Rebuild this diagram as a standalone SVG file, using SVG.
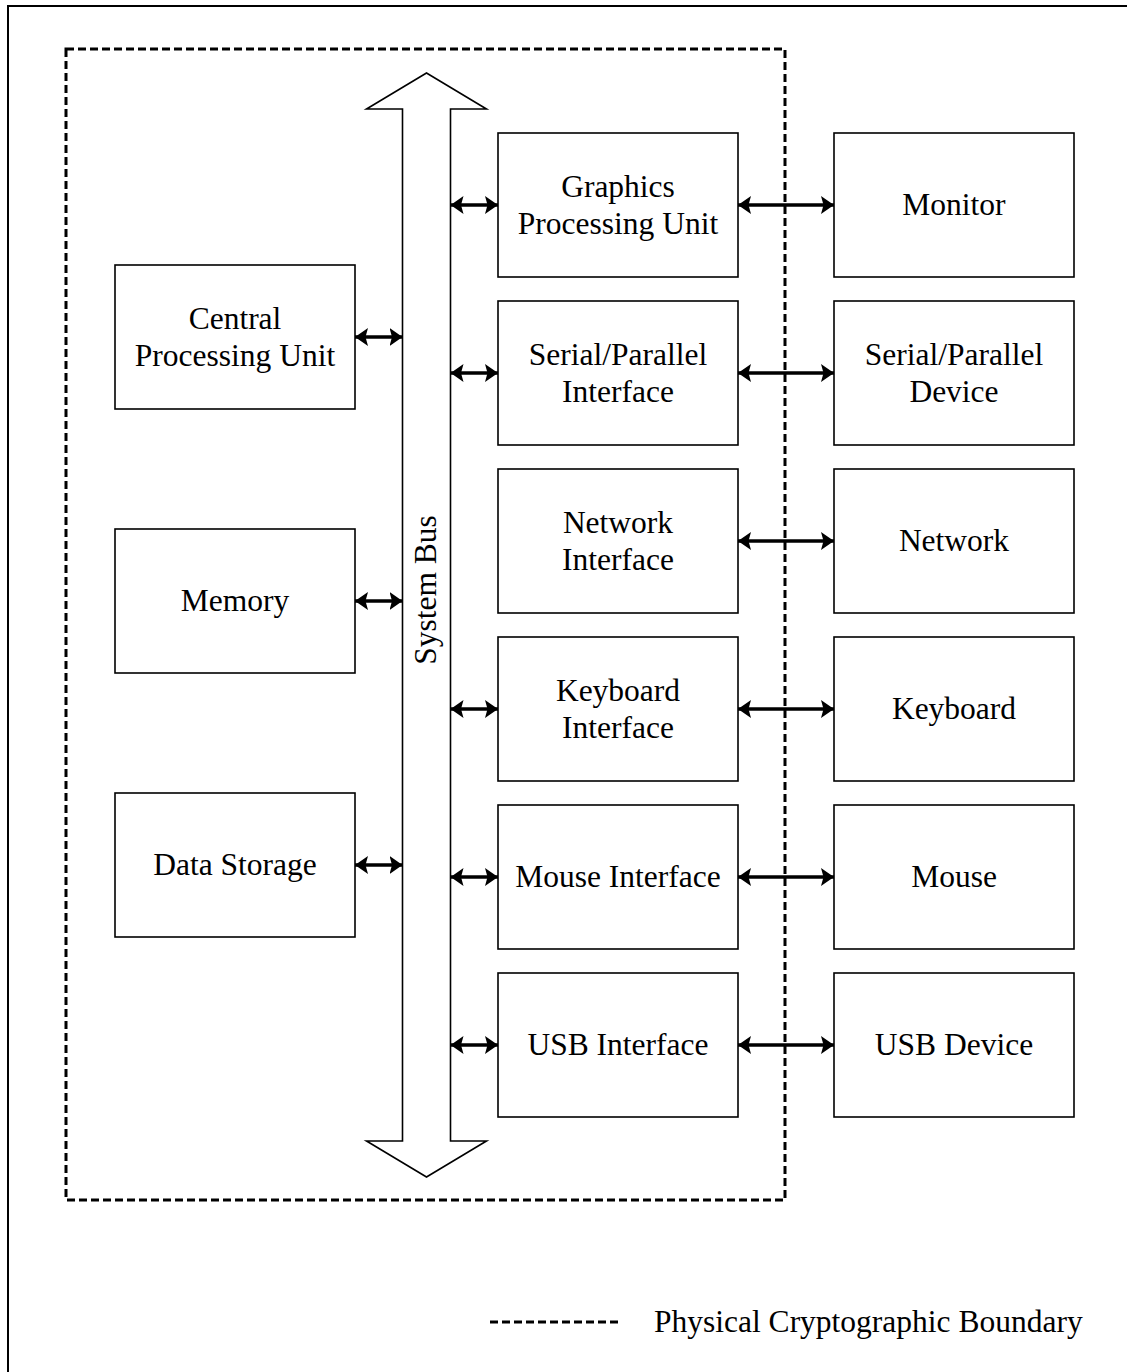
<svg xmlns="http://www.w3.org/2000/svg" width="1127" height="1372" viewBox="0 0 1127 1372">
<style>
.box{fill:#fff;stroke:#000;stroke-width:1.6}
.lbl{font-family:"Liberation Serif","Times New Roman",serif;font-size:31.5px;fill:#000;text-anchor:middle}
.conn{stroke:#000;stroke-width:3.5;fill:none;marker-start:url(#ah);marker-end:url(#ah)}
.dash{fill:none;stroke:#000;stroke-width:3;stroke-dasharray:8 4}
</style>
<defs>
<marker id="ah" viewBox="0 0 13 18" refX="13" refY="9" markerWidth="13" markerHeight="18" markerUnits="userSpaceOnUse" orient="auto-start-reverse">
<path d="M0,0 L13,9 L0,18 L2.5,9 z" fill="#000"/>
</marker>
</defs>
<rect x="0" y="0" width="1127" height="1372" fill="#fff"/>
<rect id="frame" x="8" y="6" width="1140" height="1390" fill="none" stroke="#000" stroke-width="2"/>
<rect id="boundary" class="dash" x="66" y="49" width="719" height="1151"/>

<g id="system-bus">
<polygon points="426.5,73 486.5,109 450.5,109 450.5,1141 486.5,1141 426.5,1177 366.5,1141 402.5,1141 402.5,109 366.5,109" fill="#fff" stroke="#000" stroke-width="1.6"/>
<text class="lbl" transform="translate(436,590) rotate(-90)">System Bus</text>
</g>

<g id="cpu"><rect class="box" x="115" y="265" width="240" height="144"/>
<text class="lbl" x="235" y="329">Central</text><text class="lbl" x="235" y="366">Processing Unit</text></g>
<g id="memory"><rect class="box" x="115" y="529" width="240" height="144"/>
<text class="lbl" x="235" y="611">Memory</text></g>
<g id="data-storage"><rect class="box" x="115" y="793" width="240" height="144"/>
<text class="lbl" x="235" y="875">Data Storage</text></g>

<g id="gpu"><rect class="box" x="498" y="133" width="240" height="144"/>
<text class="lbl" x="618" y="197">Graphics</text><text class="lbl" x="618" y="234">Processing Unit</text></g>
<g id="serial-if"><rect class="box" x="498" y="301" width="240" height="144"/>
<text class="lbl" x="618" y="365">Serial/Parallel</text><text class="lbl" x="618" y="402">Interface</text></g>
<g id="network-if"><rect class="box" x="498" y="469" width="240" height="144"/>
<text class="lbl" x="618" y="533">Network</text><text class="lbl" x="618" y="570">Interface</text></g>
<g id="keyboard-if"><rect class="box" x="498" y="637" width="240" height="144"/>
<text class="lbl" x="618" y="701">Keyboard</text><text class="lbl" x="618" y="738">Interface</text></g>
<g id="mouse-if"><rect class="box" x="498" y="805" width="240" height="144"/>
<text class="lbl" x="618" y="887">Mouse Interface</text></g>
<g id="usb-if"><rect class="box" x="498" y="973" width="240" height="144"/>
<text class="lbl" x="618" y="1055">USB Interface</text></g>

<g id="monitor"><rect class="box" x="834" y="133" width="240" height="144"/>
<text class="lbl" x="954" y="215">Monitor</text></g>
<g id="serial-dev"><rect class="box" x="834" y="301" width="240" height="144"/>
<text class="lbl" x="954" y="365">Serial/Parallel</text><text class="lbl" x="954" y="402">Device</text></g>
<g id="network"><rect class="box" x="834" y="469" width="240" height="144"/>
<text class="lbl" x="954" y="551">Network</text></g>
<g id="keyboard"><rect class="box" x="834" y="637" width="240" height="144"/>
<text class="lbl" x="954" y="719">Keyboard</text></g>
<g id="mouse"><rect class="box" x="834" y="805" width="240" height="144"/>
<text class="lbl" x="954" y="887">Mouse</text></g>
<g id="usb-dev"><rect class="box" x="834" y="973" width="240" height="144"/>
<text class="lbl" x="954" y="1055">USB Device</text></g>

<g id="connectors">
<line class="conn" x1="355" y1="337" x2="402.5" y2="337"/>
<line class="conn" x1="355" y1="601" x2="402.5" y2="601"/>
<line class="conn" x1="355" y1="865" x2="402.5" y2="865"/>
<line class="conn" x1="450.5" y1="205" x2="498" y2="205"/>
<line class="conn" x1="450.5" y1="373" x2="498" y2="373"/>
<line class="conn" x1="450.5" y1="709" x2="498" y2="709"/>
<line class="conn" x1="450.5" y1="877" x2="498" y2="877"/>
<line class="conn" x1="450.5" y1="1045" x2="498" y2="1045"/>
<line class="conn" x1="738" y1="205" x2="834" y2="205"/>
<line class="conn" x1="738" y1="373" x2="834" y2="373"/>
<line class="conn" x1="738" y1="541" x2="834" y2="541"/>
<line class="conn" x1="738" y1="709" x2="834" y2="709"/>
<line class="conn" x1="738" y1="877" x2="834" y2="877"/>
<line class="conn" x1="738" y1="1045" x2="834" y2="1045"/>
</g>

<g id="legend">
<line class="dash" x1="490" y1="1322" x2="621" y2="1322"/>
<text x="654" y="1332" style="font-family:'Liberation Serif','Times New Roman',serif;font-size:31.5px;fill:#000">Physical Cryptographic Boundary</text>
</g>
</svg>
